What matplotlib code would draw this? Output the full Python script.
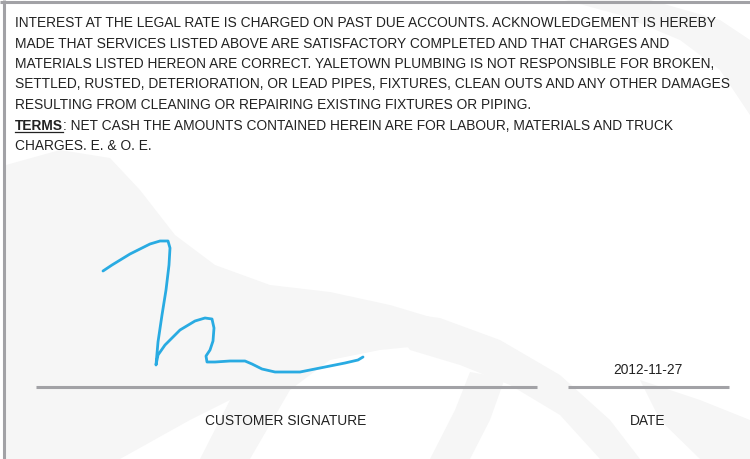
import matplotlib
matplotlib.use("Agg")
import matplotlib.pyplot as plt
from matplotlib.patches import Polygon

# terms and conditions text
terms_lines = [
    "INTEREST AT THE LEGAL RATE IS CHARGED ON PAST DUE ACCOUNTS. ACKNOWLEDGEMENT IS HEREBY",
    "MADE THAT SERVICES LISTED ABOVE ARE SATISFACTORY COMPLETED AND THAT CHARGES AND",
    "MATERIALS LISTED HEREON ARE CORRECT. YALETOWN PLUMBING IS NOT RESPONSIBLE FOR BROKEN,",
    "SETTLED, RUSTED, DETERIORATION, OR LEAD PIPES, FIXTURES, CLEAN OUTS AND ANY OTHER DAMAGES",
    "RESULTING FROM CLEANING OR REPAIRING EXISTING FIXTURES OR PIPING.",
]
terms_label = "TERMS"
terms_rest = ": NET CASH THE AMOUNTS CONTAINED HEREIN ARE FOR LABOUR, MATERIALS AND TRUCK"
last_line = "CHARGES. E. & O. E."

sign_date = "2012-11-27"
sign_label = "CUSTOMER SIGNATURE"
date_label = "DATE"

# signature stroke (pixel coords)
sig_x = [103, 112, 130, 150, 160, 168, 170, 169, 166, 162, 158, 156, 158, 165,
         180, 195, 205, 212, 214, 213, 210, 206, 207, 215, 230, 245, 252, 262,
         275, 300, 320, 345, 358, 363]
sig_y = [271, 265, 254, 244, 241, 241, 248, 265, 290, 315, 342, 365, 355, 345,
         330, 321, 318, 319, 328, 341, 350, 356, 362, 362, 361, 361, 364, 369,
         372, 372, 368, 363, 360, 357]

TEXT = "#222222"
RULE = "#a2a2a6"
INK = "#29abe2"
WM = "#f6f6f6"

plt.rcParams["font.family"] = ["Liberation Sans", "DejaVu Sans"]

fig = plt.figure(figsize=(7.5, 4.59), dpi=100)
ax = fig.add_axes([0, 0, 1, 1])
ax.set_xlim(0, 750)
ax.set_ylim(459, 0)
ax.axis("off")

# faint watermark in the background
wm_shapes = [
    [(6, 165), (60, 150), (110, 158), (140, 190), (175, 235), (215, 265), (270, 285),
     (330, 292), (390, 305), (440, 320), (480, 335), (430, 345), (380, 350), (330, 360),
     (290, 390), (250, 459), (200, 459), (230, 400), (190, 420), (120, 459), (6, 459)],
    [(380, 310), (440, 318), (500, 340), (560, 375), (610, 420), (640, 459), (600, 459),
     (560, 415), (510, 385), (460, 365), (410, 350)],
    [(470, 372), (505, 378), (490, 420), (470, 459), (430, 459), (455, 410)],
    [(565, 0), (650, 0), (720, 20), (750, 40), (750, 115), (720, 70), (680, 40), (620, 15)],
    [(640, 380), (700, 400), (750, 420), (750, 459), (700, 459), (660, 420)],
]
for pts in wm_shapes:
    ax.add_patch(Polygon(pts, closed=True, fc=WM, ec="none", zorder=0))

# page border (top and left)
ax.plot([0, 750], [2, 2], color=RULE, lw=2.2, solid_capstyle="butt")
ax.plot([4, 4], [0, 459], color=RULE, lw=2.2, solid_capstyle="butt")

fs = 9.95
x0 = 15
baselines = [27, 47.5, 68, 88.5, 109, 129.5, 150]
for line, yb in zip(terms_lines, baselines):
    ax.text(x0, yb, line, fontsize=fs, color=TEXT, va="baseline", ha="left")

t = ax.text(x0, baselines[5], terms_label, fontsize=fs, color=TEXT,
            fontweight="bold", va="baseline", ha="left")
fig.canvas.draw()
bb = t.get_window_extent(renderer=fig.canvas.get_renderer())
w = bb.width * 750 / fig.bbox.width
ax.plot([x0, x0 + w], [baselines[5] + 2, baselines[5] + 2], color=TEXT, lw=0.9)
ax.text(x0 + w, baselines[5], terms_rest, fontsize=fs, color=TEXT,
        va="baseline", ha="left")
ax.text(x0, baselines[6], last_line, fontsize=fs, color=TEXT, va="baseline", ha="left")

# signature
ax.plot(sig_x, sig_y, color=INK, lw=2.0, solid_joinstyle="round",
        solid_capstyle="round", zorder=3)

# signature and date rules
ax.plot([36, 537], [387, 387], color=RULE, lw=2.2, solid_capstyle="butt")
ax.plot([568, 729], [387, 387], color=RULE, lw=2.2, solid_capstyle="butt")

ax.text(648, 374, sign_date, fontsize=fs, color=TEXT, ha="center", va="baseline")
ax.text(286, 425, sign_label, fontsize=fs, color=TEXT, ha="center", va="baseline")
ax.text(648, 425, date_label, fontsize=fs, color=TEXT, ha="center", va="baseline")

fig.savefig("out.png", dpi=100)
